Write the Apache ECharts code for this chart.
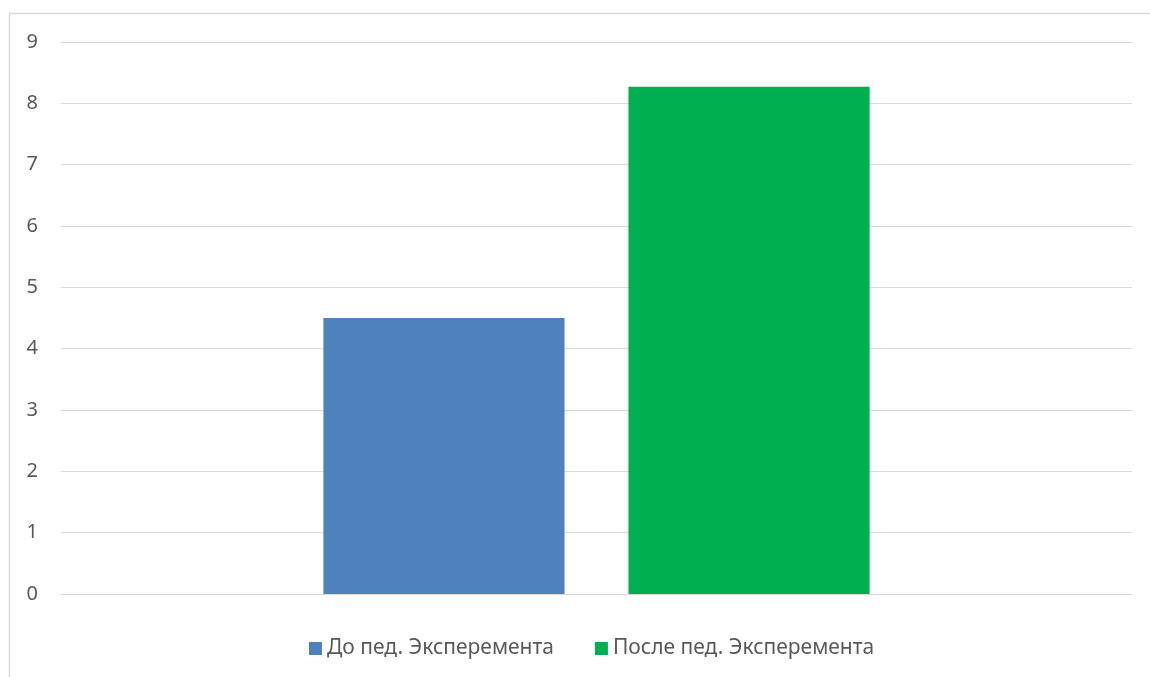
<!DOCTYPE html>
<html>
<head>
<meta charset="utf-8">
<script src="https://cdn.jsdelivr.net/npm/echarts@6/dist/echarts.min.js"></script>
<style>
  html, body { margin: 0; padding: 0; background: #ffffff; }
  #chart { width: 1150px; height: 677px; }
</style>
</head>
<body>
<div id="chart"></div>
<script>
// One category, two series: score before and after the pedagogical experiment
const categories = [''];
const seriesNames = ['До пед. Эксперемента', 'После пед. Эксперемента'];
const beforeValues = [4.5];
const afterValues = [8.27];
const seriesColors = ['#4f81bd', '#00b050'];
const yTicks = { min: 0, max: 9, interval: 1 };

const FONT = '"Noto Sans", "Open Sans", sans-serif';
const chart = echarts.init(document.getElementById('chart'), null, { renderer: 'canvas' });

chart.setOption({
  backgroundColor: '#ffffff',
  animation: false,
  graphic: [{
    type: 'rect',
    shape: { x: 9.5, y: 13.5, width: 1200, height: 700 },
    style: { fill: 'none', stroke: '#d9d9d9', lineWidth: 1.5 },
    silent: true
  }],
  grid: { left: 61, right: 18, top: 42, bottom: 83, containLabel: false },
  legend: {
    left: 304,
    top: 633,
    icon: 'rect',
    itemWidth: 13,
    itemHeight: 13,
    itemGap: 41,
    textStyle: { color: '#595959', fontSize: 21, fontFamily: FONT },
    data: seriesNames
  },
  xAxis: {
    type: 'category',
    data: categories,
    axisLine: { show: true, lineStyle: { color: '#d9d9d9', width: 1 } },
    axisTick: { show: false },
    axisLabel: { show: false }
  },
  yAxis: {
    type: 'value',
    min: yTicks.min,
    max: yTicks.max,
    interval: yTicks.interval,
    axisLine: { show: false },
    axisTick: { show: false },
    axisLabel: { color: '#595959', fontSize: 20, fontFamily: FONT, margin: 23 },
    splitLine: { lineStyle: { color: '#d9d9d9', width: 1 } }
  },
  series: [
    {
      name: seriesNames[0],
      type: 'bar',
      data: beforeValues,
      itemStyle: { color: seriesColors[0] },
      barGap: '26.5%',
      barCategoryGap: '49%'
    },
    {
      name: seriesNames[1],
      type: 'bar',
      data: afterValues,
      itemStyle: { color: seriesColors[1] },
      barGap: '26.5%',
      barCategoryGap: '49%'
    }
  ]
});
</script>
</body>
</html>
